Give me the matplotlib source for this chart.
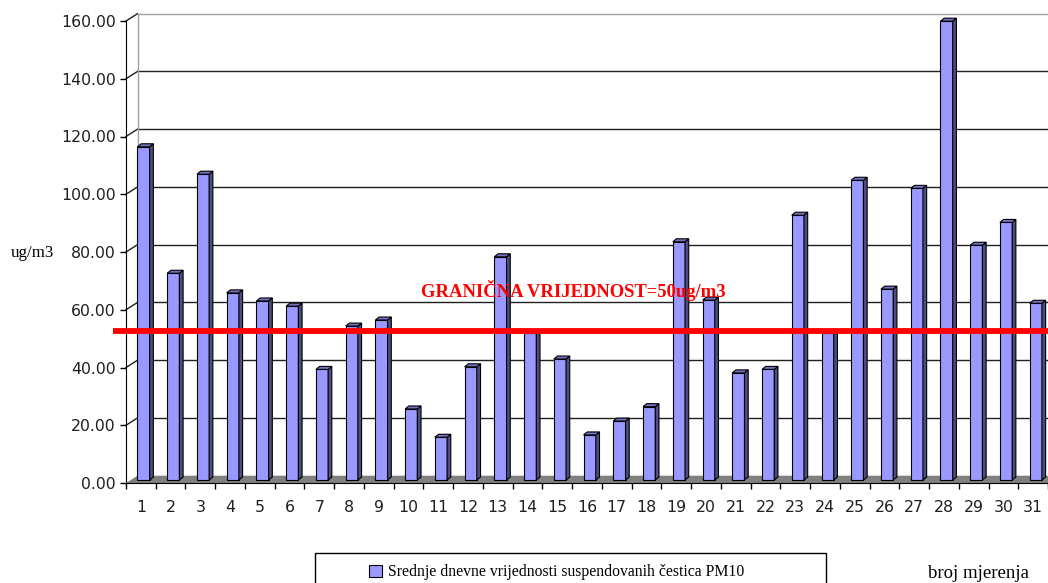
import matplotlib as mpl
mpl.use('Agg')
import matplotlib.pyplot as plt
from matplotlib.patches import Polygon, Rectangle
import numpy as np

# daily means of PM10 (ug/m3), measurements 1..31
days = list(range(1, 32))
pm10 = [115.4, 71.6, 105.9, 64.8, 62.0, 60.2, 38.3, 53.3, 55.4, 24.6,
        14.8, 39.2, 77.3, 51.0, 41.9, 15.6, 20.4, 25.4, 82.5, 62.3,
        37.1, 38.3, 91.7, 51.0, 103.8, 66.1, 101.0, 158.9, 81.3, 89.2,
        61.2]
y_ticks = [0, 20, 40, 60, 80, 100, 120, 140, 160]
limit_label = "GRANIČNA VRIJEDNOST=50ug/m3"
series_label = "Srednje dnevne vrijednosti suspendovanih čestica PM10"

W, H = 1048, 583
fig = plt.figure(figsize=(W / 100, H / 100), dpi=100)
ax = fig.add_axes([126 / W, (H - 483) / H, (W - 126) / W, (483 - 21) / H])
ax.set_xlim(0.5, 31.5)
ax.set_ylim(0, 160)

# fake 3d depth (data units)
wdx, wdy = 0.387, 2.53      # back wall
bdx, bdy = 0.09, 1.04       # bar front plane
sdx, sdy = 0.125, 1.04      # bar depth
bw = 0.41

front = '#9999FF'
side = '#4D4D80'
top = '#7272C0'

# floor
ax.add_patch(Polygon([(0.5, 0), (31.5, 0), (31.5 + wdx, wdy), (0.5 + wdx, wdy)],
                     closed=True, facecolor='#808080', edgecolor='none',
                     clip_on=False, zorder=1))
# back wall
for v in y_ticks[1:]:
    c = '#A0A0A0' if v == 160 else '#202020'
    ax.plot([0.5 + wdx, 32.5], [v + wdy, v + wdy], color=c, lw=1,
            clip_on=False, zorder=0.5)
    ax.plot([0.5, 0.5 + wdx], [v, v + wdy], color='#202020', lw=1,
            clip_on=False, zorder=0.5)
ax.plot([0.5 + wdx, 0.5 + wdx], [wdy, 160 + wdy], color='#A0A0A0', lw=1,
        clip_on=False, zorder=0.5)

# bars
x = np.array(days, dtype=float)
vals = np.array(pm10)
bars = ax.bar(x + bdx, vals, width=bw, bottom=bdy, color=front,
              edgecolor='black', linewidth=0.8, zorder=3, clip_on=False)
for xi, v in zip(x + bdx, vals):
    xl, xr = xi - bw / 2, xi + bw / 2
    ax.add_patch(Polygon([(xr, bdy), (xr + sdx, bdy + sdy),
                          (xr + sdx, bdy + sdy + v), (xr, bdy + v)],
                         closed=True, facecolor=side, edgecolor='black',
                         lw=0.8, zorder=3, clip_on=False))
    ax.add_patch(Polygon([(xl, bdy + v), (xr, bdy + v),
                          (xr + sdx, bdy + v + sdy), (xl + sdx, bdy + v + sdy)],
                         closed=True, facecolor=top, edgecolor='black',
                         lw=0.8, zorder=3, clip_on=False))

# limit line
ax.plot([0.05, 32.5], [52.7, 52.7], color='#FF0000', lw=4.2,
        solid_capstyle='butt', clip_on=False, zorder=5)
ax.text(15.54, 66.5, limit_label, color='#FF0000', ha='center', va='center',
        fontsize=13.4, fontweight='bold', family='Liberation Serif', zorder=6)

# axes
for s in ['top', 'right']:
    ax.spines[s].set_visible(False)
ax.spines['left'].set_color('black')
ax.spines['bottom'].set_color('black')
ax.spines['left'].set_zorder(4)
ax.set_yticks(y_ticks)
ax.set_yticklabels(['%.2f' % v for v in y_ticks])
ax.tick_params(axis='y', direction='out', length=6 * 0.72, width=1,
               pad=3, labelsize=11.3)
ax.set_xticks(np.arange(0.5, 32, 1.0))
ax.set_xticklabels([])
ax.set_xticks(x, minor=True)
ax.set_xticklabels([str(d) for d in days], minor=True)
ax.tick_params(axis='x', which='major', direction='out', length=6 * 0.72, width=1)
ax.tick_params(axis='x', which='minor', length=0, pad=12.5, labelsize=11.3)
for lab in ax.get_yticklabels() + ax.get_xticklabels(minor=True):
    lab.set_family('DejaVu Sans')
    lab.set_color('#202020')

fig.text(11 / W, 1 - 253 / H, 'ug/m3', ha='left', va='center',
         fontsize=12.2, family='Liberation Serif')
fig.text(928 / W, 1 - 573 / H, 'broj mjerenja', ha='left', va='center',
         fontsize=13.5, family='Liberation Serif')

# legend box (runs off the bottom of the picture)
fig.patches.append(Rectangle((315 / W, -0.05), (826 - 315) / W, 0.05 + (H - 553) / H,
                             transform=fig.transFigure, facecolor='none',
                             edgecolor='black', lw=1))
fig.legend([bars], [series_label], loc='center left',
           bbox_to_anchor=(355 / W, 1 - 572 / H), frameon=False,
           handlelength=0.8, handleheight=0.8, handletextpad=0.4,
           prop={'family': 'Liberation Serif', 'size': 11.3})

fig.savefig('out.png', dpi=100)
